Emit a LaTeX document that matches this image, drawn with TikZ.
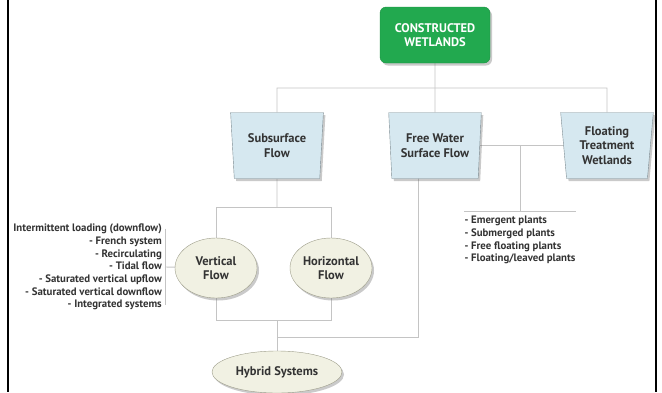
\documentclass[tikz,border=0pt]{standalone}
\usepackage{fontspec}
\setmainfont{PT Sans}
\usetikzlibrary{positioning,shapes.geometric,shadows,backgrounds}
\definecolor{cwgreen}{HTML}{22A94F}
\definecolor{trapfill}{HTML}{D6E8F0}
\definecolor{trapdraw}{HTML}{7D8C92}
\definecolor{ovalfill}{HTML}{F1F1E3}
\definecolor{ovaldraw}{HTML}{9D9D8A}
\definecolor{linegray}{HTML}{C4C4C4}
\definecolor{textgray}{HTML}{333333}

\begin{document}
\begin{tikzpicture}[x=1pt,y=-1pt,
          basic/.style={font=\bfseries\fontsize{12.5}{14.5}\selectfont,text=textgray,align=center,inner sep=0pt},
          shade/.style={drop shadow={shadow xshift=2pt,shadow yshift=-2.5pt,opacity=.35,fill=black!60}},
          top/.style={basic,shade,draw=cwgreen!85!black,fill=cwgreen,text=white,rounded corners=6pt,minimum width=110pt,minimum height=56pt},
          flow/.style={basic,shade,draw=trapdraw,fill=trapfill,trapezium,shape border rotate=180,trapezium angle=84,trapezium stretches=true,minimum width=93pt,minimum height=66pt},
          oval/.style={basic,shade,draw=ovaldraw,fill=ovalfill,ellipse,minimum width=82pt,minimum height=60pt},
          lab/.style={font=\bfseries\fontsize{10.8}{12.7}\selectfont,text=textgray,inner sep=0pt},
          conn/.style={draw=linegray,line width=.9pt}
        ]
        \useasboundingbox (0,0) rectangle (662,392);

        %frame
        \draw[line width=2.5pt] (8,0) -- (8,392);
        \draw[line width=2.5pt] (656,0) -- (656,392);

        %top
        \node[top] (cw) at (435,35) {CONSTRUCTED\\WETLANDS};
        \node[below of = cw,flow,node distance=110.5pt] (fw) {Free Water\\Surface Flow};
        \node[left of = fw,flow,node distance=158pt] (sf) {Subsurface\\Flow};
        \node[right of = fw,flow,node distance=172pt] (ftw) {Floating\\Treatment\\Wetlands};

        %flows
        \node[oval] (vf) at (216,268) {Vertical\\Flow};
        \node[right of = vf,oval,node distance=115pt] (hf) {Horizontal\\Flow};
        \node[oval,minimum width=130pt,minimum height=42pt] (hs) at (277,372) {Hybrid Systems};

        %labels
        \node[lab,align=right,anchor=east] (vlist) at (162,267) {Intermittent loading (downflow)\\- French system\\- Recirculating\\- Tidal flow\\- Saturated vertical upflow\\- Saturated vertical downflow\\- Integrated systems};
        \coordinate (pbar) at (520,211);
        \node[lab,align=left,below=5pt of pbar] (plist) {- Emergent plants\\- Submerged plants\\- Free floating plants\\- Floating/leaved plants};

        %lines
        \coordinate (tj) at (435,88);
        \coordinate (sj) at (277,207);
        \coordinate (vj) at (277,320);
        \coordinate (fwdrop) at (418,337);
        \begin{scope}[on background layer]
        \draw[conn] (cw) -- (fw);
        \draw[conn] (sf) -- (sf |- tj) -- (ftw |- tj) -- (ftw);
        \draw[conn] (fw) -- (ftw);
        \draw[conn] (fw -| pbar) -- (pbar);
        \draw[conn] (plist.west |- pbar) -- (plist.east |- pbar);
        \draw[conn] (sf) -- (sj);
        \draw[conn] (vf |- sj) -- (hf |- sj);
        \draw[conn] (vf |- sj) -- (vf);
        \draw[conn] (hf |- sj) -- (hf);
        \draw[conn] (vf) -- (vf |- vj) -- (hf |- vj) -- (hf);
        \draw[conn] (vj) -- (hs);
        \draw[conn] (fw -| fwdrop) -- (fwdrop) -- (fwdrop -| hs);
        \draw[conn] ([xshift=3pt,yshift=-5pt]vlist.north east) -- ([xshift=3pt,yshift=5pt]vlist.south east);
        \draw[conn] ([xshift=3pt]vlist.east) -- (vf);
        \end{scope}
    \end{tikzpicture}
\end{document}
